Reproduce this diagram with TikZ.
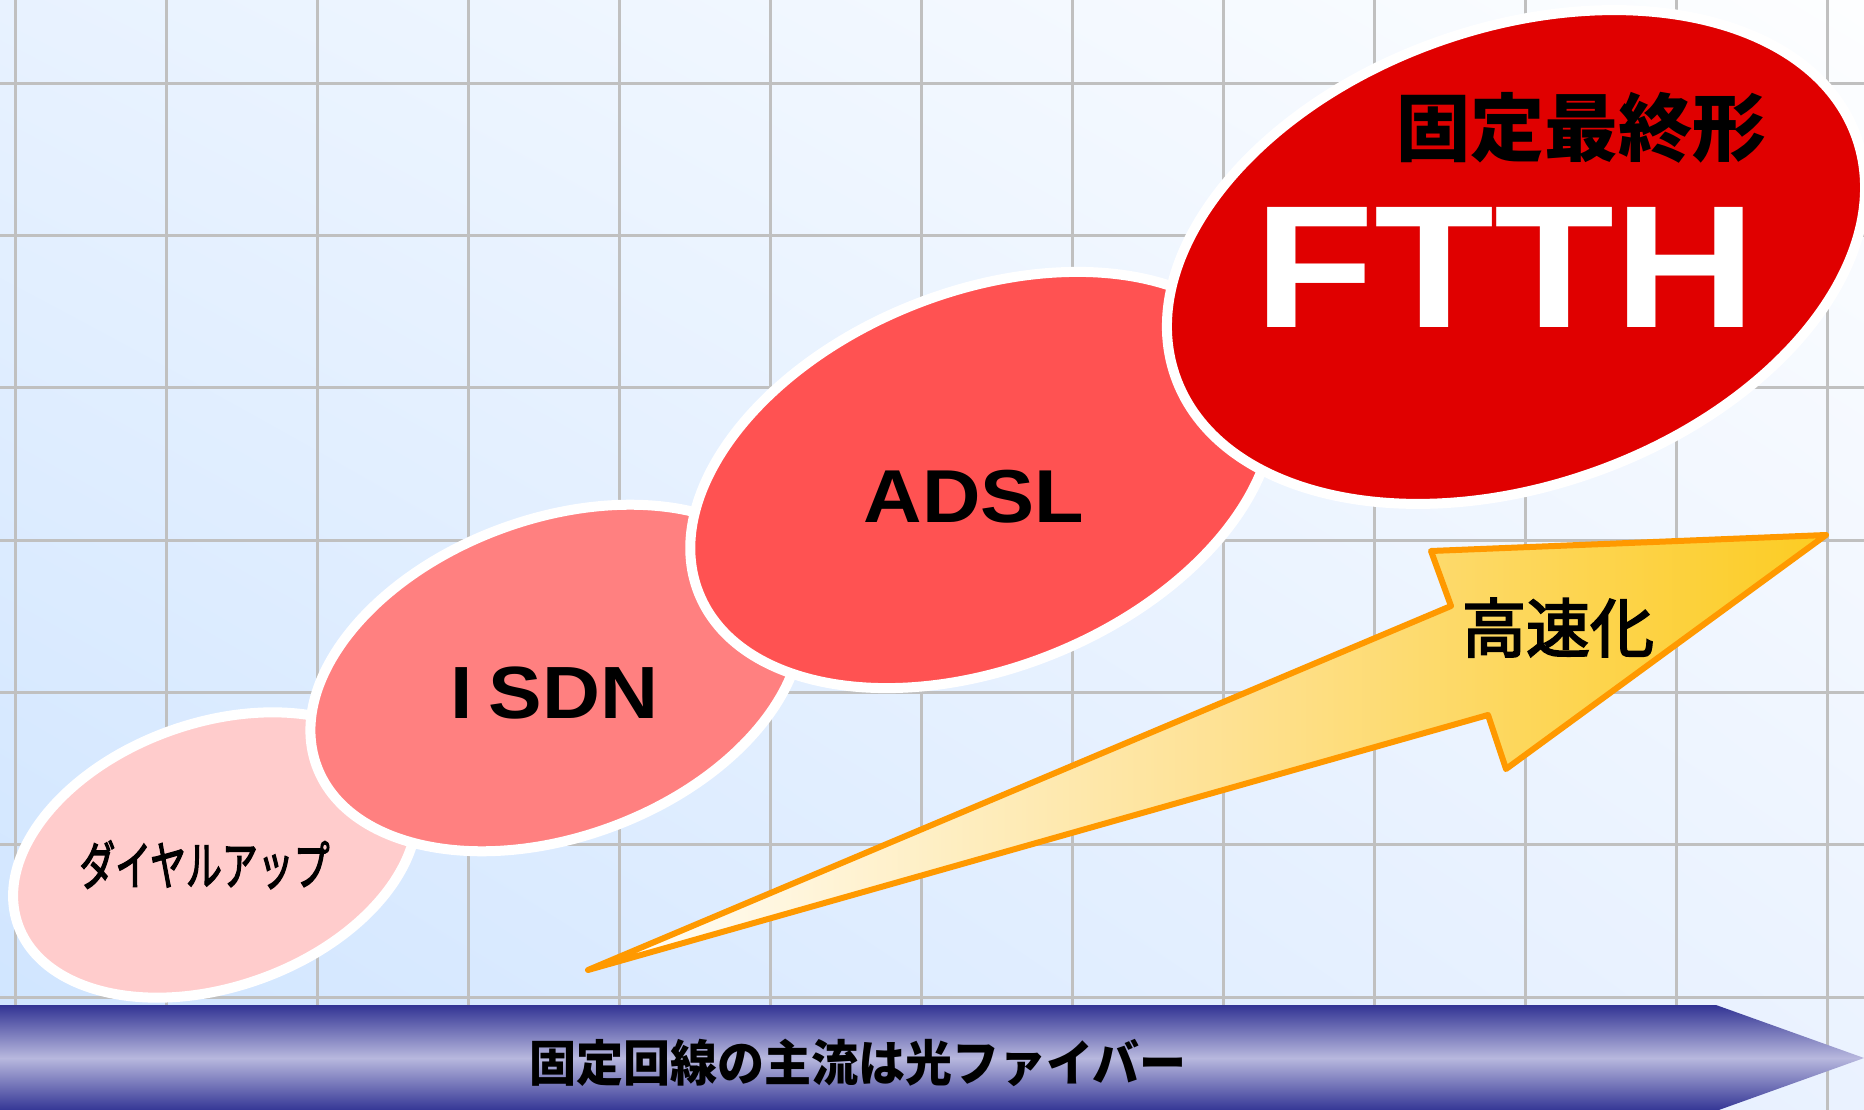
\documentclass[tikz,border=0pt]{standalone}
\usepackage{fontspec}
\usepackage{graphicx}
\usetikzlibrary{shapes.geometric,shadings}
\newfontfamily\jpfont{Noto Sans CJK JP}
\newfontfamily\jpmed{Noto Sans CJK JP}[FakeBold=3]
\newfontfamily\latinfont{Liberation Sans}
\definecolor{bgUL}{RGB}{232,242,255}
\definecolor{bgUR}{RGB}{253,254,255}
\definecolor{bgLL}{RGB}{206,228,255}
\definecolor{bgLR}{RGB}{234,242,255}
\definecolor{gridgray}{RGB}{192,192,192}
\definecolor{barDark}{RGB}{50,52,148}
\definecolor{barLight}{RGB}{184,184,222}
\definecolor{dialfill}{RGB}{255,204,204}
\definecolor{isdnfill}{RGB}{255,128,128}
\definecolor{adslfill}{RGB}{255,82,82}
\definecolor{ftthfill}{RGB}{224,0,0}
\definecolor{arrowline}{RGB}{255,153,0}
\definecolor{arrowgold}{RGB}{252,204,34}
\definecolor{arrowmid}{RGB}{254,226,150}
\begin{document}
\begin{tikzpicture}[x=1pt,y=-1pt,
  gridline/.style={draw=gridgray,line width=3pt},
  blob/.style={ellipse,draw=white,line width=10pt,inner sep=0pt,outer sep=0pt},
  arrowstyle/.style={draw=arrowline,line width=6pt,line join=round,left color=white,right color=arrowgold,middle color=arrowmid},
  lbl/.style={anchor=base,inner sep=0pt}]
\useasboundingbox (0,0) rectangle (1864,1110);
\clip (0,0) rectangle (1864,1110);
% background
\shade[upper left=bgUL,upper right=bgUR,lower left=bgLL,lower right=bgLR] (0,0) rectangle (1864,1110);
% grid
\foreach \i in {0,...,12} \draw[gridline] ({15.5+151.04*\i},0) -- ({15.5+151.04*\i},1110);
\foreach \j in {0,...,6} \draw[gridline] (0,{83.3+152.3*\j}) -- (1864,{83.3+152.3*\j});
% bottom bar arrow
\coordinate (barTL) at (0,1005);
\coordinate (barTR) at (1716,1005);
\coordinate (barTip) at (1864,1058);
\coordinate (barBR) at (1716,1111);
\coordinate (barBL) at (0,1111);
\shade[top color=barDark,bottom color=barDark,middle color=barLight] (barTL) -- (barTR) -- (barTip) -- (barBR) -- (barBL) -- cycle;
% ellipses
\node[blob,fill=dialfill,minimum width=418pt,minimum height=264pt,rotate=19.5] (dial) at (215,855) {};
\node[blob,fill=isdnfill,minimum width=510pt,minimum height=318pt,rotate=20.2] (isdn) at (556,678) {};
\node[blob,fill=adslfill,minimum width=610pt,minimum height=376pt,rotate=21.8] (adsl) at (982,480) {};
\node[blob,fill=ftthfill,minimum width=722pt,minimum height=458pt,rotate=19.3] (ftth) at (1516,257) {};
% speed-up arrow
\coordinate (aTail) at (588,970);
\coordinate (aP1) at (1451,606);
\coordinate (aP2) at (1431,551);
\coordinate (aTip) at (1826,535);
\coordinate (aP4) at (1506,769);
\coordinate (aP5) at (1488,715);
\shadedraw[arrowstyle] (aTail) -- (aP1) -- (aP2) -- (aTip) -- (aP4) -- (aP5) -- cycle;
% labels
\node[lbl] (tDial) at (204.5,885) {\jpmed\fontsize{37}{40}\selectfont\scalebox{0.97}[1.42]{ダイヤルアップ}};
\node[lbl] (tIsdn) at (554.5,718) {\latinfont\bfseries\fontsize{74}{80}\selectfont\scalebox{1.085}[1]{I\hspace{14pt}SDN}};
\node[lbl] (tAdsl) at (974,522) {\latinfont\bfseries\fontsize{75}{80}\selectfont\scalebox{1.08}[1]{ADSL}};
\node[lbl,text=white] (tFtth) at (1505.5,327) {\latinfont\bfseries\fontsize{174.6}{180}\selectfont\scalebox{1.125}[1]{FTTH}};
\node[lbl] (tFinal) at (1581,156) {\jpfont\bfseries\fontsize{74}{80}\selectfont 固定最終形};
\node[lbl] (tSpeed) at (1558,652) {\jpmed\fontsize{64}{70}\selectfont 高速化};
\node[lbl] (tBar) at (858,1081) {\jpfont\bfseries\fontsize{47}{50}\selectfont\scalebox{1}[1.05]{固定回線の主流は光ファイバー}};
\end{tikzpicture}
\end{document}
